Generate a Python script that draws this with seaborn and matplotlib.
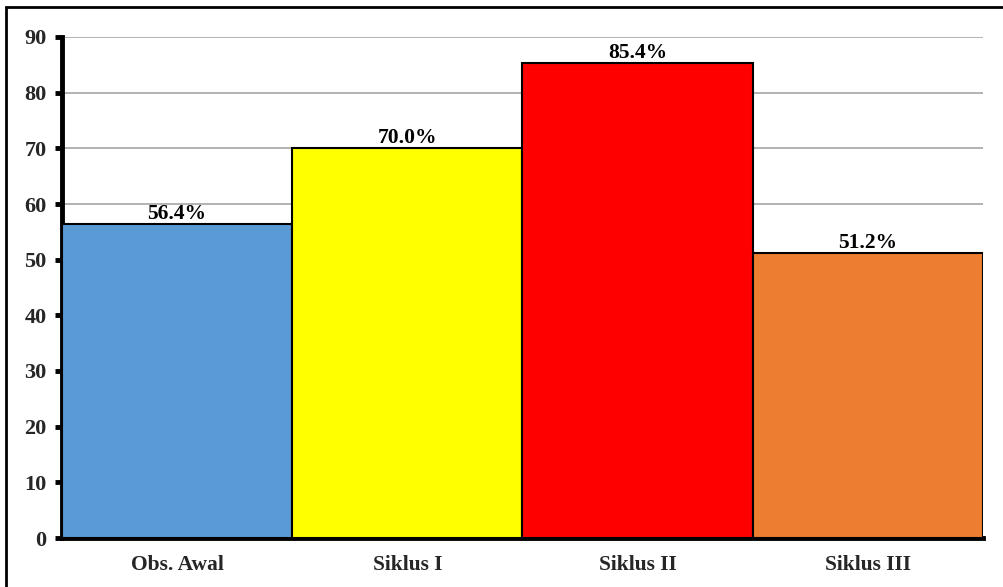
import matplotlib
matplotlib.use("Agg")
import matplotlib.pyplot as plt
import seaborn as sns
import pandas as pd
from matplotlib.patches import Rectangle

# data
categories = ["Obs. Awal", "Siklus I", "Siklus II", "Siklus III"]
values = [56.4, 70.0, 85.4, 51.2]
bar_colors = ["#5B9BD5", "#FFFF00", "#FF0000", "#ED7D31"]
y_ticks = [0, 10, 20, 30, 40, 50, 60, 70, 80, 90]

df = pd.DataFrame({"kategori": categories, "nilai": values})

sns.set_theme(style="white")
plt.rcParams["font.family"] = ["Liberation Serif", "DejaVu Serif"]
plt.rcParams["font.weight"] = "bold"

fig = plt.figure(figsize=(10.04, 5.87), dpi=100)
ax = fig.add_axes([62 / 1004, 1 - 538 / 587, (983 - 62) / 1004, (538 - 37) / 587])

sns.barplot(data=df, x="kategori", y="nilai", hue="kategori", palette=bar_colors,
            saturation=1, width=1.0, edgecolor="black", linewidth=1.5,
            legend=False, ax=ax, zorder=3)

for c in ax.containers:
    ax.bar_label(c, fmt="%.1f%%", padding=0, fontsize=15.5, fontweight="bold", color="black")

ax.set_ylim(0, 90)
ax.set_xlim(-0.5, 3.5)
ax.set_yticks(y_ticks)
ax.yaxis.grid(True, color="#a6a6a6", linewidth=1.2, zorder=0)
ax.set_axisbelow(True)
ax.set_xlabel("")
ax.set_ylabel("")

for s in ["top", "right"]:
    ax.spines[s].set_visible(False)
ax.spines["left"].set_linewidth(3.5)
ax.spines["bottom"].set_linewidth(3.5)
ax.spines["left"].set_color("black")
ax.spines["bottom"].set_color("black")

ax.tick_params(axis="y", which="major", direction="out", length=5, width=3.5,
               labelsize=16, pad=6, left=True, color="black")
ax.tick_params(axis="x", length=0, labelsize=15.5, pad=12)
for lab in ax.get_xticklabels() + ax.get_yticklabels():
    lab.set_fontweight("bold")

# outer chart border (only left and top visible in the crop)
fig.patches.append(Rectangle((6 / 1004, -0.1), 1.2, 1.1 - 7 / 587, transform=fig.transFigure,
                             fill=False, edgecolor="black", linewidth=2, clip_on=False))

fig.savefig("out.png", dpi=100)
